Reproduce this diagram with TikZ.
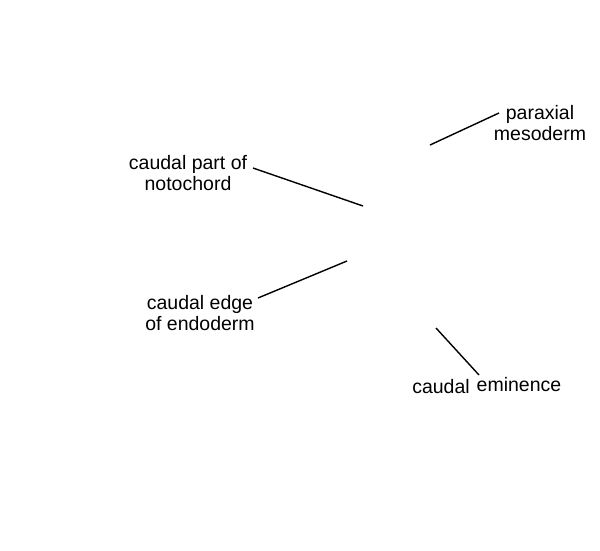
\documentclass[tikz,border=0pt]{standalone}
\usepackage{fontspec}
\setmainfont{Liberation Sans}
\usepackage{tikz}

\tikzset{
  lbl/.style={align=center, inner sep=0pt, font=\fontsize{19.5}{21.5}\selectfont},
  leader/.style={line width=1.4pt, black}
}

\begin{document}
\begin{tikzpicture}[x=1pt, y=-1pt]
    \useasboundingbox (0,0) rectangle (600,550);
    % labels
    \node[lbl] (paraxial) at (540,123) {paraxial\\mesoderm};
    \node[lbl] (notochord) at (188,173) {caudal part of\\notochord};
    \node[lbl] (endoderm) at (200,313) {caudal edge\\of endoderm};
    \node[lbl] (caudal) at (441,387) {caudal};
    \node[lbl] (eminence) at (519,385) {eminence};
    % leader lines
    \coordinate (px) at (499,113);
    \coordinate (pxend) at (430,145);
    \coordinate (nc) at (253,168);
    \coordinate (ncend) at (363,206);
    \coordinate (en) at (258,298);
    \coordinate (enend) at (347,261);
    \coordinate (em) at (479,375);
    \coordinate (emend) at (436,328);
    \draw[leader] (px) -- (pxend);
    \draw[leader] (nc) -- (ncend);
    \draw[leader] (en) -- (enend);
    \draw[leader] (em) -- (emend);
\end{tikzpicture}
\end{document}
